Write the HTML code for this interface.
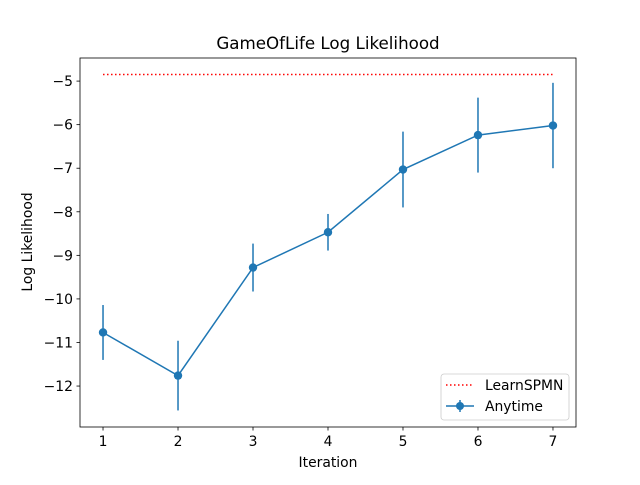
<!DOCTYPE html>
<html><head><meta charset="utf-8"><style>
body{margin:0;background:#fff;}
svg text{font-family:"DejaVu Sans","Liberation Sans",sans-serif;fill:#000;}
</style></head><body>
<svg id="chart" width="640" height="480" xmlns="http://www.w3.org/2000/svg">
<rect width="640" height="480" fill="#fff"/>
<text x="328" y="49" font-size="16.7" text-anchor="middle">GameOfLife Log Likelihood</text>
<text x="328" y="467" font-size="13.9" text-anchor="middle">Iteration</text>
<text transform="translate(32,242) rotate(-90)" font-size="13.9" text-anchor="middle">Log Likelihood</text>
<g id="ticks"></g>
<g id="marks"></g>
<rect x="80" y="58" width="496" height="369" fill="none" stroke="#000" stroke-width="0.8"/>
<g>
<rect x="441" y="374" width="128" height="46" rx="3" fill="#fff" stroke="#ccc" stroke-width="0.8"/>
<line x1="446" y1="385" x2="474" y2="385" stroke="red" stroke-width="1.5" stroke-dasharray="1.5,2.5"/>
<text x="485" y="390" font-size="13.9">LearnSPMN</text>
<line x1="446" y1="406" x2="474" y2="406" stroke="#1f77b4" stroke-width="1.5"/>
<line x1="460" y1="400" x2="460" y2="412" stroke="#1f77b4" stroke-width="1.5"/>
<circle cx="460" cy="406" r="4" fill="#1f77b4"/>
<text x="485" y="411" font-size="13.9">Anytime</text>
</g>
</svg>
<script>
const iterations=[1,2,3,4,5,6,7];
const anytimeMean=[-10.77,-11.76,-9.28,-8.47,-7.03,-6.24,-6.02];
const anytimeErr=[0.63,0.8,0.55,0.42,0.87,0.86,0.98];
const learnSPMN=-4.85;
const xTicks=[1,2,3,4,5,6,7];
const yTicks=[-12,-11,-10,-9,-8,-7,-6,-5];
const NS="http://www.w3.org/2000/svg";
function sx(v){return 80+(v-0.693)/(7.307-0.693)*496;}
function sy(v){return 58+(-4.47-v)/(-4.47+12.94)*369;}
function mk(t,a,p){const e=document.createElementNS(NS,t);for(const k in a)e.setAttribute(k,a[k]);p.appendChild(e);return e;}
const tg=document.getElementById('ticks'),mg=document.getElementById('marks');
xTicks.forEach(v=>{const x=sx(v);
const l=mk('line',{x1:x,x2:x,y1:427,y2:430.5,stroke:'#000','stroke-width':0.8},tg);


const t=mk('text',{x:x,y:446,'font-size':13.9,'text-anchor':'middle'},tg);t.textContent=v;

});
yTicks.forEach(v=>{const y=sy(v);
const l=mk('line',{x1:76.5,x2:80,y1:y,y2:y,stroke:'#000','stroke-width':0.8},tg);


const t=mk('text',{x:73,y:y+5,'font-size':13.9,'text-anchor':'end'},tg);t.textContent='\u2212'+Math.abs(v);

});
const ref=mk('line',{x1:sx(iterations[0]),x2:sx(iterations[iterations.length-1]),y1:sy(learnSPMN),y2:sy(learnSPMN),stroke:'red','stroke-width':1.5,'stroke-dasharray':'1.5,2.5'},mg);


const pl=mk('polyline',{points:iterations.map((v,i)=>sx(v)+','+sy(anytimeMean[i])).join(' '),fill:'none',stroke:'#1f77b4','stroke-width':1.5},mg);


iterations.forEach((v,i)=>{const x=sx(v);
const e=mk('line',{x1:x,x2:x,y1:sy(anytimeMean[i]+anytimeErr[i]),y2:sy(anytimeMean[i]-anytimeErr[i]),stroke:'#1f77b4','stroke-width':1.5},mg);


const c=mk('circle',{cx:x,cy:sy(anytimeMean[i]),r:4.2,fill:'#1f77b4'},mg);

});
</script>
</body></html>
